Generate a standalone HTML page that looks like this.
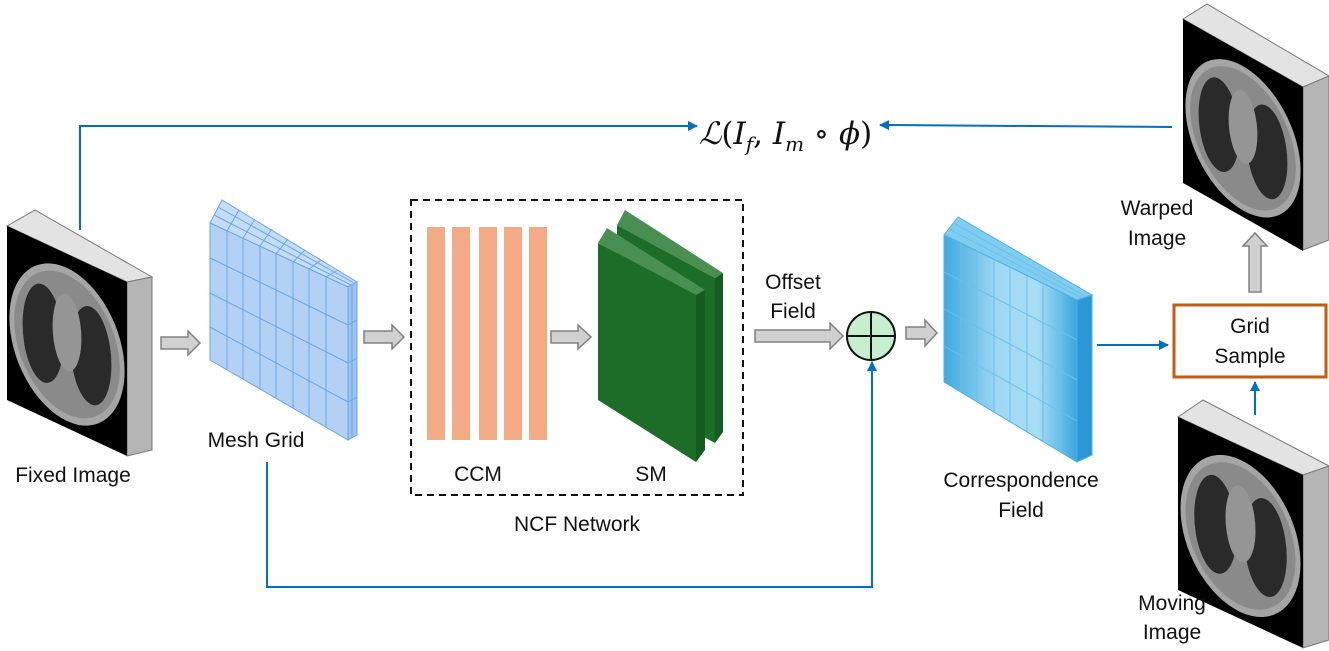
<!DOCTYPE html>
<html><head><meta charset="utf-8"><style>
html,body{margin:0;padding:0;background:#fff;}
svg{display:block;}
text{font-family:"Liberation Sans",sans-serif;font-size:21px;fill:#111;}
</style></head><body>
<svg width="1329" height="651" viewBox="0 0 1329 651" xmlns="http://www.w3.org/2000/svg">
<defs>
<marker id="ab" viewBox="0 0 10 10" refX="9" refY="5" markerWidth="5" markerHeight="5" orient="auto"><path d="M0,0L10,5L0,10z" fill="#0070C0"/></marker>
<linearGradient id="cf" x1="0" x2="1" y1="0" y2="0">
<stop offset="0" stop-color="#3fa9e0"/><stop offset="0.4" stop-color="#9ed8f3"/><stop offset="0.7" stop-color="#a8def5"/><stop offset="1" stop-color="#3aa6df"/></linearGradient>
<g id="ct">
<rect x="0" y="0" width="100" height="100" fill="#000"/>
<ellipse cx="50" cy="52" rx="48" ry="44" fill="#a5a5a5"/>
<ellipse cx="50" cy="52" rx="44" ry="40" fill="#8a8a8a"/>
<ellipse cx="30" cy="52" rx="17" ry="28" fill="#2a2a2a"/>
<ellipse cx="70" cy="52" rx="17" ry="28" fill="#2a2a2a"/>
<ellipse cx="50" cy="45" rx="12" ry="22" fill="#959595"/>
</g>
</defs>

<!-- Fixed image -->
<polygon points="7,226 35,210 152,277 127,282" fill="#e3e3e3" stroke="#777" stroke-width="1"/>
<polygon points="127,282 152,277 152,450 127,456" fill="#b5b5b5" stroke="#777" stroke-width="1"/>
<g transform="matrix(1.2,0.56,0,1.74,7,226)"><use href="#ct"/></g>

<!-- Warped image -->
<polygon points="1183,19 1207,4 1329,76 1303,87" fill="#e3e3e3" stroke="#777"/>
<polygon points="1303,87 1329,76 1329,240 1303,250" fill="#b5b5b5" stroke="#777"/>
<g transform="matrix(1.2,0.68,0,1.64,1183,19)"><use href="#ct"/></g>

<!-- Moving image -->
<polygon points="1178,417 1203,400 1329,466 1303,475" fill="#e3e3e3" stroke="#777"/>
<polygon points="1303,475 1329,466 1329,640 1303,648" fill="#b5b5b5" stroke="#777"/>
<g transform="matrix(1.25,0.58,0,1.73,1178,417)"><use href="#ct"/></g>

<!-- Mesh grid -->
<g stroke="#6aa6e6" stroke-width="1">
<polygon points="210,223 222,200 357,282 348,287" fill="#c3dcf8"/>
<polygon points="348,287 357,282 357,435 348,440" fill="#9cc3ee"/>
<polygon points="210,223 348,287 348,440 210,360" fill="#b3d1f5"/>
<g fill="none">
<line x1="227" y1="231" x2="227" y2="370"/><line x1="243" y1="238" x2="243" y2="379"/><line x1="260" y1="246" x2="260" y2="389"/><line x1="276" y1="254" x2="276" y2="398"/><line x1="293" y1="262" x2="293" y2="408"/><line x1="309" y1="269" x2="309" y2="417"/><line x1="326" y1="277" x2="326" y2="427"/>
<line x1="210" y1="258" x2="348" y2="325"/><line x1="210" y1="293" x2="348" y2="363"/><line x1="210" y1="327" x2="348" y2="402"/>
<line x1="214" y1="215" x2="351" y2="285"/><line x1="218" y1="207" x2="354" y2="283"/>
<line x1="227" y1="231" x2="239" y2="210"/><line x1="243" y1="238" x2="255" y2="219"/><line x1="260" y1="246" x2="272" y2="229"/><line x1="276" y1="254" x2="288" y2="239"/><line x1="293" y1="262" x2="305" y2="250"/><line x1="309" y1="269" x2="321" y2="260"/><line x1="326" y1="277" x2="338" y2="270"/>
<line x1="352" y1="285" x2="352" y2="438"/><line x1="348" y1="325" x2="357" y2="320"/><line x1="348" y1="363" x2="357" y2="358"/><line x1="348" y1="402" x2="357" y2="397"/>
</g></g>

<!-- Correspondence field -->
<g stroke="#4fb0e6" stroke-width="1">
<polygon points="944,235 958,217 1092,295 1077,300" fill="#7fcdf0"/>
<polygon points="1077,300 1092,295 1092,455 1077,462" fill="#2b97d6"/>
<polygon points="944,235 1077,300 1077,462 944,382" fill="url(#cf)"/>
<g fill="none" stroke="#6cc0ea">
<line x1="961" y1="243" x2="961" y2="392"/><line x1="977" y1="251" x2="977" y2="402"/><line x1="994" y1="259" x2="994" y2="412"/><line x1="1010" y1="267" x2="1010" y2="422"/><line x1="1027" y1="276" x2="1027" y2="432"/><line x1="1043" y1="284" x2="1043" y2="442"/><line x1="1060" y1="292" x2="1060" y2="452"/>
<line x1="944" y1="272" x2="1077" y2="340"/><line x1="944" y1="309" x2="1077" y2="380"/><line x1="944" y1="346" x2="1077" y2="421"/>
<line x1="949" y1="229" x2="1082" y2="298"/><line x1="953" y1="223" x2="1087" y2="297"/>
</g></g>

<!-- Dashed NCF box -->
<rect x="411" y="200" width="332" height="295" fill="none" stroke="#111" stroke-width="2" stroke-dasharray="7,5"/>
<!-- CCM bars -->
<g fill="#F2AB84">
<rect x="427" y="227" width="18" height="213"/><rect x="452" y="227" width="18" height="213"/><rect x="479" y="227" width="18" height="213"/><rect x="504" y="227" width="18" height="213"/><rect x="529" y="227" width="18" height="213"/>
</g>
<!-- SM slabs -->
<polygon points="617,225 625,210 723,273 715,278" fill="#4a8f52"/>
<polygon points="715,278 723,273 723,432 715,443" fill="#155c20"/>
<polygon points="617,225 715,278 715,443 617,390" fill="#1c6d28"/>
<polygon points="598,243 607,228 705,290 696,295" fill="#4a8f52"/>
<polygon points="696,295 705,290 705,450 696,462" fill="#155c20"/>
<polygon points="598,243 696,295 696,462 598,400" fill="#1c6d28"/>

<!-- Gray block arrows -->
<g fill="#d0d0d0" stroke="#808080" stroke-width="1.5">
<polygon points="161,337 188,337 188,331 200,343 188,355 188,349 161,349"/>
<polygon points="364,331 392,331 392,325 404,337 392,349 392,343 364,343"/>
<polygon points="551,331 578,331 578,325 591,337 578,349 578,343 551,343"/>
<polygon points="755,330 830,330 830,323 843,336 830,349 830,342 755,342"/>
<polygon points="906,327 925,327 925,320 937,333 925,346 925,339 906,339"/>
<polygon points="1249,292 1249,246 1243,246 1255,233 1267,246 1261,246 1261,292"/>
</g>
<!-- circle plus -->
<circle cx="871" cy="336" r="24" fill="#c6efce" stroke="#111" stroke-width="2"/>
<line x1="847" y1="336" x2="895" y2="336" stroke="#111" stroke-width="2"/>
<line x1="871" y1="312" x2="871" y2="360" stroke="#111" stroke-width="2"/>

<!-- Blue connectors -->
<g stroke="#0070C0" stroke-width="2" fill="none">
<polyline points="80,230 80,126 697,126" marker-end="url(#ab)"/>
<polyline points="1172,127 880,125" marker-end="url(#ab)"/>
<polyline points="267,462 267,587 872,587 872,362" marker-end="url(#ab)"/>
<line x1="1097" y1="345" x2="1168" y2="345" marker-end="url(#ab)"/>
<line x1="1255" y1="415" x2="1255" y2="382" marker-end="url(#ab)"/>
</g>

<!-- Grid sample -->
<rect x="1174" y="305" width="152" height="72" fill="#fff" stroke="#C55A11" stroke-width="3"/>
<text x="1250" y="333" text-anchor="middle">Grid</text>
<text x="1250" y="363" text-anchor="middle">Sample</text>

<!-- Labels -->
<text x="73" y="482" text-anchor="middle">Fixed Image</text>
<text x="256" y="447" text-anchor="middle">Mesh Grid</text>
<text x="478" y="481" text-anchor="middle">CCM</text>
<text x="651" y="481" text-anchor="middle">SM</text>
<text x="577" y="531" text-anchor="middle">NCF Network</text>
<text x="793" y="289" text-anchor="middle">Offset</text>
<text x="793" y="318" text-anchor="middle">Field</text>
<text x="1021" y="487" text-anchor="middle">Correspondence</text>
<text x="1021" y="517" text-anchor="middle">Field</text>
<text x="1157" y="215" text-anchor="middle">Warped</text>
<text x="1157" y="245" text-anchor="middle">Image</text>
<text x="1172" y="610" text-anchor="middle">Moving</text>
<text x="1172" y="639" text-anchor="middle">Image</text>
<text x="699" y="144" style="font-family:'DejaVu Serif','Liberation Serif',serif;font-size:31px;"><tspan font-style="italic">ℒ</tspan>(<tspan font-style="italic">I</tspan><tspan font-size="20" dy="7" font-style="italic">f</tspan><tspan dy="-7">, </tspan><tspan font-style="italic">I</tspan><tspan font-size="20" dy="7" font-style="italic">m</tspan><tspan dy="-7"> ∘ </tspan><tspan font-style="italic">ϕ</tspan>)</text>
</svg>
</body></html>
